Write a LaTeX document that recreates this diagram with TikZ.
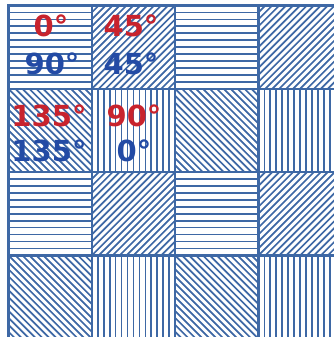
\documentclass[tikz,border=0pt]{standalone}
\usepackage{fontspec}
\setmainfont{DejaVu Sans}
\usepackage{xcolor}
\usepackage{tikz}
\definecolor{hatchblue}{RGB}{62, 104, 165}
\definecolor{angred}{RGB}{200, 35, 45}
\definecolor{angblue}{RGB}{35, 75, 165}

\begin{document}
\begin{tikzpicture}[
    x=1pt, y=-1pt,
    gridline/.style={hatchblue, line width=2.6pt},
    hatchline/.style={hatchblue, line width=1.7pt},
    anglabel/.style={font=\bfseries\fontsize{29}{29}\selectfont, inner sep=0pt},
    redlabel/.style={anglabel, text=angred},
    bluelabel/.style={anglabel, text=angblue}
]
\useasboundingbox (0,0) rectangle (334,337);
\def\cs{83.3}
% hatching: 0, 45 / 135, 90 repeated in 2x2 blocks
\foreach \i in {0,...,3}{
  \foreach \j in {0,...,3}{
    \pgfmathsetmacro{\xa}{8.5+\i*\cs}
    \pgfmathsetmacro{\ya}{5.5+\j*\cs}
    \pgfmathtruncatemacro{\kind}{mod(\i,2)+2*mod(\j,2)}
    \begin{scope}
      \clip (\xa,\ya) rectangle ++(\cs,\cs);
      \ifcase\kind
        \foreach \k in {1,...,11} \draw[hatchline] (\xa,\ya+\k*\cs/12) -- ++(\cs,0);
      \or
        \foreach \k in {1,...,23} \draw[hatchline] (\xa+\k*\cs/12,\ya) -- ++(-\cs,\cs);
      \or
        \foreach \k in {-11,...,11} \draw[hatchline] (\xa+\k*\cs/12,\ya) -- ++(\cs,\cs);
      \or
        \foreach \k in {1,...,13} \draw[hatchline] (\xa+\k*\cs/14,\ya) -- ++(0,\cs);
      \fi
    \end{scope}
  }
}
% cell borders
\foreach \n in {0,...,3}{
  \draw[gridline] (8.5+\n*\cs,4.2) -- (8.5+\n*\cs,345);
  \draw[gridline] (7.2,5.5+\n*\cs) -- (345,5.5+\n*\cs);
}
% angle labels
\node[redlabel] (R1) at (51,26) {0°};
\node[bluelabel] (B1) at (52,64) {90°};
\node[redlabel] (R2) at (131,26) {45°};
\node[bluelabel] (B2) at (131,64) {45°};
\node[redlabel] (R3) at (49,116) {135°};
\node[bluelabel] (B3) at (49,151) {135°};
\node[redlabel] (R4) at (134,116) {90°};
\node[bluelabel] (B4) at (134,151) {0°};
\end{tikzpicture}
\end{document}
